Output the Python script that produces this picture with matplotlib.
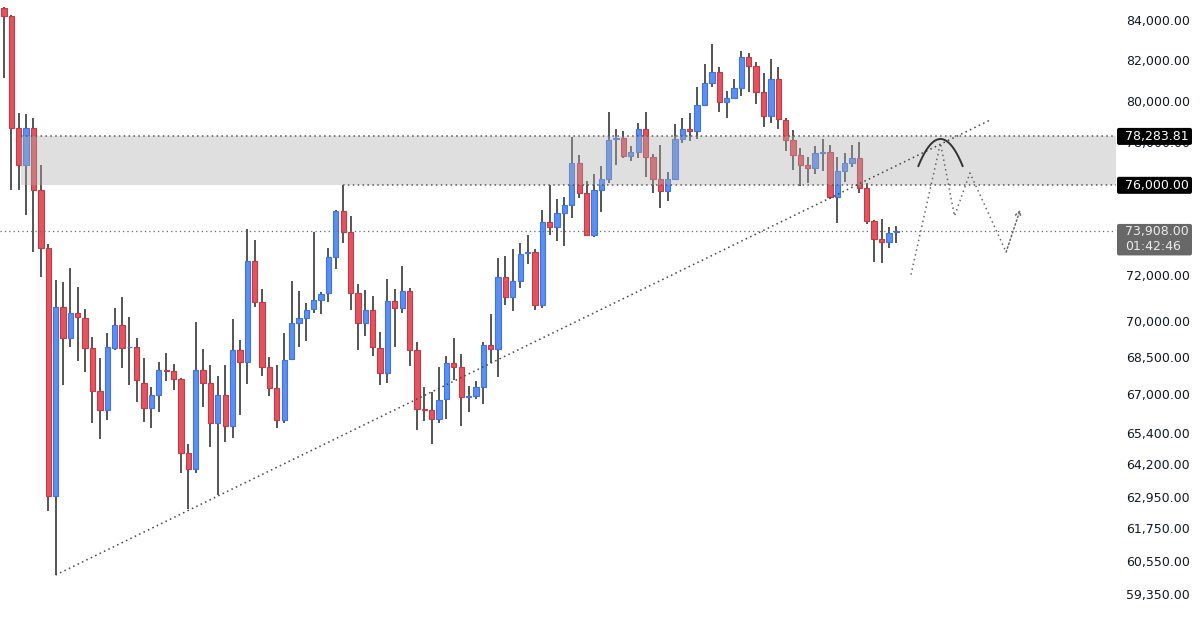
import numpy as np
import matplotlib
matplotlib.use('Agg')
import matplotlib.pyplot as plt
from matplotlib.patches import Rectangle, FancyBboxPatch
from matplotlib.transforms import IdentityTransform

# OHLC (one candle per slot, oldest first)
opens = [84610, 84200, 78690, 76940, 78690, 75790, 73170, 62970, 70600, 69290,
         70350, 70140, 68870, 67100, 66340, 68870, 69840, 68900, 68920, 67430,
         66420, 66940, 67960, 67920, 67590, 64630, 64010, 67960, 67430, 65820,
         66940, 65700, 68790, 68290, 72600, 70820, 68090, 67230, 65940, 68420,
         69920, 70140, 70520, 70900, 71210, 72770, 74830, 73880, 71210, 69920,
         70480, 68870, 67840, 70860, 70560, 71290, 68790, 66380, 66340, 65980,
         66780, 68250, 68090, 66860, 66900, 67270, 69000, 68830, 71900, 71030,
         71720, 72950, 72990, 70690, 74330, 74110, 74740, 75100, 77040, 75650,
         73750, 75790, 76290, 78160, 78210, 77360, 77550, 78640, 77320, 76290,
         75740, 76290, 78160, 78640, 78540, 79790, 80860, 81400, 79930, 80130,
         80610, 82140, 81700, 80420, 79260, 81050, 79070, 78110, 77410, 76940,
         76800, 77500, 77550, 75470, 76660, 77040, 77270, 75880, 74380, 73570,
         73440, 73900]
highs = [84660, 84250, 79400, 79360, 79160, 76940, 73350, 71770, 71680, 72290,
         71470, 70520, 69330, 68460, 69500, 70560, 71030, 70180, 69290, 68460,
         67270, 68290, 68670, 68210, 67630, 64990, 69970, 68830, 68170, 67720,
         68170, 70090, 69210, 74020, 73530, 71380, 68500, 68170, 69500, 71720,
         71290, 70780, 73880, 71250, 73170, 74880, 76000, 74600, 71590, 71340,
         71080, 69550, 71810, 71380, 72380, 71420, 69120, 67270, 67060, 68090,
         68540, 69290, 68620, 67310, 67510, 69120, 70310, 72730, 72820, 73130,
         73390, 73750, 73130, 74880, 76000, 75370, 75470, 78260, 77410, 76200,
         76520, 76900, 79450, 78640, 78540, 77830, 78920, 79450, 77460, 77880,
         76620, 78880, 79160, 79400, 80680, 81790, 82790, 81650, 80470, 81050,
         82440, 82340, 81890, 81350, 82040, 81650, 79160, 78590, 77740, 77320,
         77830, 78160, 77880, 77320, 77500, 77880, 78020, 76110, 74420, 74470,
         74110, 74150]
lows = [81100, 75790, 75790, 74650, 72990, 71900, 62400, 60030, 67350, 68920,
        68330, 67880, 65820, 65180, 65940, 68790, 68050, 67350, 66660, 65860,
        65620, 66260, 67510, 67150, 63860, 62480, 63860, 66460, 64870, 63010,
        65070, 65220, 66140, 67390, 70600, 67720, 66900, 65620, 65820, 68380,
        68920, 69170, 70350, 70310, 70820, 72250, 73390, 70480, 68790, 69380,
        68540, 67350, 67430, 68920, 70350, 68130, 65540, 65900, 64990, 65820,
        65980, 67550, 65700, 66260, 66780, 66580, 68250, 67680, 70690, 70430,
        71420, 72470, 70480, 70560, 73750, 73480, 73260, 74510, 75420, 73700,
        73660, 74780, 76110, 76940, 77270, 77130, 77270, 76390, 75650, 74970,
        75280, 76250, 77970, 78070, 78160, 79740, 80660, 79450, 79160, 80080,
        80220, 80420, 79840, 78730, 78920, 78640, 77600, 76710, 75970, 76110,
        76520, 76660, 75370, 74290, 76150, 76850, 75650, 74240, 72550, 72510,
        73170, 73390]
closes = [84200, 78690, 76940, 78690, 75790, 73170, 62970, 70600, 69290, 70350,
          70180, 68870, 67100, 66340, 68920, 69840, 68870, 68920, 67550, 66420,
          66940, 67960, 67920, 67590, 64630, 64010, 67960, 67430, 65820, 66940,
          65700, 68790, 68290, 72600, 70820, 68090, 67230, 65940, 68380, 69920,
          70140, 70480, 70900, 71160, 72770, 74830, 73880, 71210, 69920, 70480,
          68920, 67840, 70860, 70560, 71290, 68790, 66380, 66340, 65980, 66740,
          68250, 68090, 66860, 66900, 67270, 69000, 68830, 71900, 71030, 71720,
          72910, 72990, 70690, 74330, 74110, 74740, 75100, 77040, 75650, 73750,
          75790, 76290, 78110, 78210, 77360, 77550, 78640, 77320, 76290, 75740,
          76290, 78160, 78640, 78540, 79790, 80860, 81400, 79930, 80130, 80610,
          82140, 81700, 80420, 79260, 81050, 79110, 78110, 77410, 76940, 76800,
          77500, 77550, 75470, 76660, 77040, 77270, 75880, 74380, 73570, 73440,
          73840, 73908]

zone_low, zone_high = 76000.0, 78283.81
last_price = 73908.0
countdown = '01:42:46'
y_ticks = [84000, 82000, 80000, 78000, 76000, 74000, 72000, 70000, 68500,
           67000, 65400, 64200, 62950, 61750, 60550, 59350]

# trendline + hand-drawn projection (bar index, price)
trend_x = [7, 133.75]
trend_y = [60030, 79066]
proj_x = [123.0, 127.0, 128.9, 131.0, 135.9, 137.8]
proj_y = [72000, 77970, 74600, 76570, 72990, 74880]
arc_x = [124.0, 127.0, 130.0]
arc_y = [76895, 78161, 76895]

RED, RED_EDGE = '#e2555e', '#c23a45'
BLUE, BLUE_EDGE = '#5b8ff0', '#3f74e0'
WICK = '#464646'

fig = plt.figure(figsize=(12, 6.26), dpi=100)
ax = fig.add_axes([0, 0, 1116 / 1200, 1])
ax.set_yscale('log')
ax.set_xlim(-0.54, 150.8)
ax.set_ylim(58206, 85022)

idx = np.arange(len(opens))
o, h, l, c = map(np.array, (opens, highs, lows, closes))
up = c >= o
ax.vlines(idx, l, h, color=WICK, lw=1.3, zorder=2)
ax.bar(idx[up], c[up] - o[up], bottom=o[up], width=0.72,
       color=BLUE, edgecolor=BLUE_EDGE, linewidth=0.8, zorder=2)
ax.bar(idx[~up], o[~up] - c[~up], bottom=c[~up], width=0.72,
       color=RED, edgecolor=RED_EDGE, linewidth=0.8, zorder=2)

# resistance zone, drawn over the candles
x_right = ax.get_xlim()[1]
ax.add_patch(Rectangle((2.3, zone_low), x_right - 2.3, zone_high - zone_low,
                       facecolor='#afafaf', alpha=0.4, lw=0, zorder=3))
dot = (0, (1, 2.2))
ax.hlines(zone_high, 2.3, x_right, color='#555555', lw=1.1, linestyle=dot, zorder=4)
ax.hlines(zone_low, 46, x_right, color='#555555', lw=1.1, linestyle=dot, zorder=4)
ax.axhline(last_price, color='#666666', lw=0.9, linestyle=(0, (1, 2.5)), zorder=4)

ax.plot(trend_x, trend_y, color='#444444', lw=1.1, linestyle=dot, zorder=4)

# projected path with small arrowhead
ax.plot(proj_x[:-1], proj_y[:-1], color='#666666', lw=1.1, linestyle=dot, zorder=4)
ax.annotate('', xy=(proj_x[-1], proj_y[-1]), xytext=(proj_x[-2], proj_y[-2]),
            arrowprops=dict(arrowstyle='->,head_length=0.35,head_width=0.2',
                            color='#666666', lw=1.1, linestyle=':',
                            shrinkA=0, shrinkB=0), zorder=4)

# arch over the zone
t = np.linspace(-1, 1, 60)
la, lp = np.log(arc_y[0]), np.log(arc_y[1])
ax.plot(arc_x[1] + (arc_x[2] - arc_x[1]) * t, np.exp(lp - (lp - la) * t ** 2),
        color='#333333', lw=1.4, zorder=5)

for s in ax.spines.values():
    s.set_visible(False)
ax.xaxis.set_visible(False)
ax.yaxis.tick_right()
ax.yaxis.set_major_locator(matplotlib.ticker.FixedLocator(y_ticks))
ax.yaxis.set_major_formatter(matplotlib.ticker.FixedFormatter([f'{v:,.2f}' for v in y_ticks]))
ax.yaxis.set_minor_locator(matplotlib.ticker.NullLocator())
ax.tick_params(axis='y', length=0, pad=7.5, labelsize=9, labelcolor='#131722')

# price tags on the axis
def tag(price, face, fg, above, below, lines):
    y = ax.transData.transform((0, price))[1]
    fig.add_artist(FancyBboxPatch((1117, y - below), 75, above + below,
                                  boxstyle='round,pad=0,rounding_size=2',
                                  facecolor=face, edgecolor='none',
                                  transform=IdentityTransform(), zorder=5))
    for k, txt in enumerate(lines):
        fig.text(1125.5, y - 15 * k, txt, color=fg, fontsize=9, va='center',
                 ha='left', transform=IdentityTransform(), zorder=6)

tag(zone_high, '#000000', 'white', 8.5, 8.5, [f'{zone_high:,.2f}'])
tag(zone_low, '#000000', 'white', 8.5, 8.5, [f'{zone_low:,.2f}'])
tag(last_price, '#686868', '#ececec', 7.5, 24, [f'{last_price:,.2f}', countdown])

fig.savefig('out.png', dpi=100)
